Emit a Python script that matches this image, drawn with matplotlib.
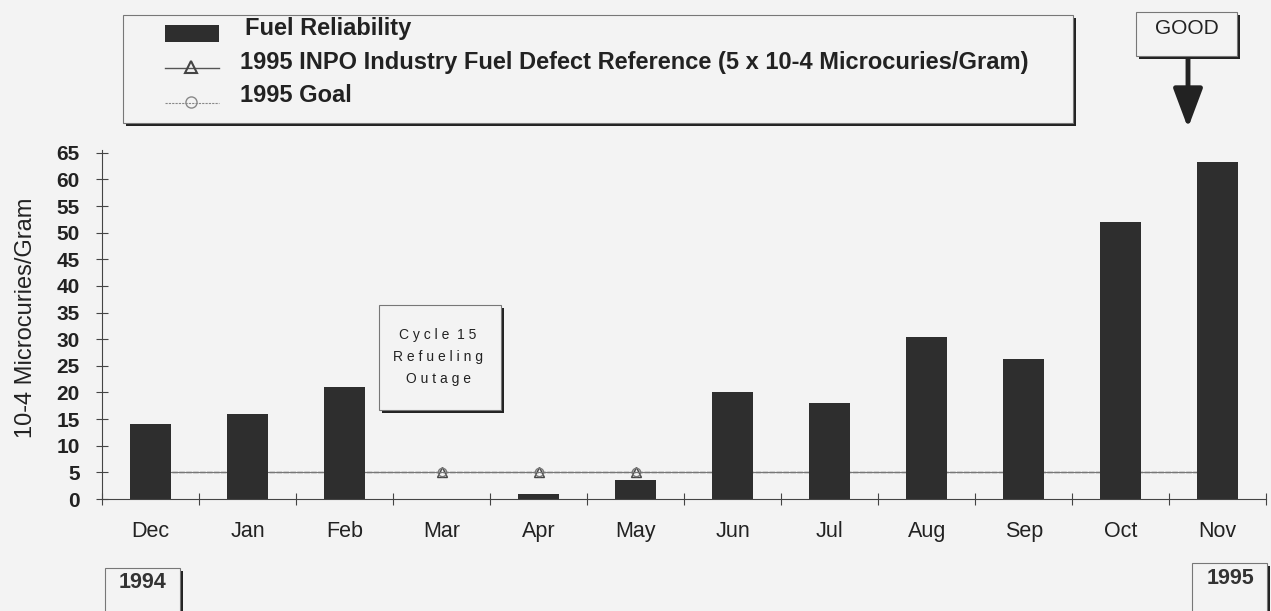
import matplotlib
matplotlib.use("Agg")
import matplotlib.pyplot as plt
from matplotlib.patches import Rectangle
from matplotlib.lines import Line2D

months = ["Dec", "Jan", "Feb", "Mar", "Apr", "May", "Jun", "Jul", "Aug", "Sep", "Oct", "Nov"]
fuel_reliability = [14, 16, 21, 0, 1, 3.5, 20, 18, 30.5, 26.3, 52, 63.2]
inpo_reference = [5] * 12
goal_1995 = [5] * 12
yticks = list(range(0, 70, 5))
legend_labels = ["Fuel Reliability",
                 "1995 INPO Industry Fuel Defect Reference (5 x 10-4 Microcuries/Gram)",
                 "1995 Goal"]

BG = "#f3f3f3"
BAR = "#2e2e2e"
plt.rcParams["font.family"] = ["Liberation Sans", "DejaVu Sans"]

fig = plt.figure(figsize=(12.71, 6.11), dpi=100, facecolor=BG)
ax = fig.add_axes([0.0803, 0.1833, 0.916, 0.571])
ax.set_facecolor(BG)

x = list(range(len(months)))
ax.plot(x, inpo_reference, color="#555555", lw=1, ls=(0, (4, 1)), marker="^",
        mfc="none", mec="#444444", ms=7, zorder=1)
ax.plot(x, goal_1995, color="#777777", lw=0.8, marker="o",
        mfc="none", mec="#777777", ms=6, zorder=1)
ax.bar(x, fuel_reliability, width=0.42, color=BAR, edgecolor="none", zorder=2)

ax.set_xlim(-0.5, 11.5)
ax.set_ylim(0, 65.5)
ax.set_yticks(yticks)
ax.set_yticklabels([str(t) for t in yticks], fontsize=15, fontweight="bold",
                   color="#222222")
ax.set_xticks([i + 0.5 for i in range(-1, 12)], minor=False)
ax.set_xticklabels([])
ax.set_xticks(x, minor=True)
ax.set_xticklabels(months, minor=True, fontsize=15.5, color="#222222")
ax.tick_params(axis="x", which="minor", length=0, pad=16)
ax.tick_params(axis="x", which="major", direction="inout", length=8, color="#444444")
ax.tick_params(axis="y", direction="inout", length=8, color="#444444", pad=12)
for s in ["top", "right"]:
    ax.spines[s].set_visible(False)
for s in ["left", "bottom"]:
    ax.spines[s].set_color("#444444")
ax.set_ylabel("10-4 Microcuries/Gram", fontsize=17, color="#222222")
ax.yaxis.set_label_coords(-0.056, 0.52)


def shadow_box(x0, y0, w, h, d=0.004):
    # box with drop shadow on right and bottom, in figure coords
    fig.add_artist(Rectangle((x0 + d * 0.5, y0 - d * 1.2), w, h, transform=fig.transFigure,
                             facecolor="#222222", edgecolor="none", zorder=5))
    fig.add_artist(Rectangle((x0, y0), w, h, transform=fig.transFigure,
                             facecolor=BG, edgecolor="#777777", lw=0.8, zorder=6))


def fy(py):
    return 1 - py / 611


def fx(px):
    return px / 1271


# legend frame and entries
shadow_box(fx(123), fy(123), fx(950), fy(15) - fy(123))
fig.add_artist(Rectangle((fx(165), fy(42)), fx(54), fy(25) - fy(42), transform=fig.transFigure,
                         facecolor=BAR, edgecolor="none", zorder=7))
fig.add_artist(Line2D([fx(165), fx(219)], [fy(68), fy(68)], transform=fig.transFigure,
                      color="#555555", lw=1, zorder=7))
fig.add_artist(Line2D([fx(191)], [fy(67)], transform=fig.transFigure, color="#444444",
                      marker="^", mfc="none", mec="#444444", mew=1.5, ms=8, zorder=7))
fig.add_artist(Line2D([fx(165), fx(219)], [fy(103), fy(103)], transform=fig.transFigure,
                      color="#888888", lw=0.8, ls=(0, (2, 1)), zorder=7))
fig.add_artist(Line2D([fx(191)], [fy(102)], transform=fig.transFigure, color="#888888",
                      marker="o", mfc="none", mec="#888888", ms=8, zorder=7))
text_pos = [(245, 28), (240, 62), (240, 96)]
for (tx, ty), lab in zip(text_pos, legend_labels):
    fig.text(fx(tx), fy(ty), lab, ha="left", va="center", fontsize=17,
             fontweight="bold", color="#222222", zorder=8)

# GOOD box with arrow
shadow_box(fx(1136), fy(56), fx(101), fy(12) - fy(56))
fig.text(fx(1187), fy(29), "GOOD", ha="center", va="center", fontsize=15,
         color="#222222", zorder=8)
ax.annotate("", xy=(fx(1188), fy(128)), xytext=(fx(1188), fy(58)),
            xycoords="figure fraction", textcoords="figure fraction",
            arrowprops=dict(arrowstyle="-|>,head_width=0.9,head_length=2.4",
                            color="#222222", lw=3.5, shrinkA=0, shrinkB=0))

# Cycle 15 annotation box
shadow_box(fx(379), fy(410), fx(122), fy(305) - fy(410))
fig.text(fx(438), fy(357), "C y c l e  1 5\nR e f u e l i n g\nO u t a g e", ha="center",
         va="center", fontsize=10, linespacing=1.75, color="#222222", zorder=8)

# year boxes
shadow_box(fx(105), fy(620), fx(75), fy(568) - fy(620))
fig.text(fx(143), fy(582), "1994", ha="center", va="center", fontsize=15.5,
         fontweight="bold", color="#333333", zorder=8)
shadow_box(fx(1192), fy(620), fx(75), fy(563) - fy(620))
fig.text(fx(1231), fy(578), "1995", ha="center", va="center", fontsize=15.5,
         fontweight="bold", color="#333333", zorder=8)

fig.savefig("out.png", dpi=100, facecolor=BG)
